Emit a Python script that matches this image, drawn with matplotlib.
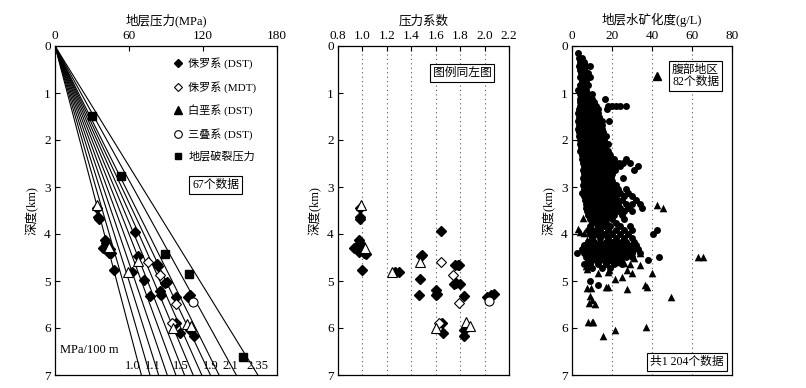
import matplotlib
matplotlib.use("Agg")
import matplotlib.pyplot as plt
from matplotlib.lines import Line2D

plt.rcParams['font.family'] = ['Liberation Serif', 'Noto Sans CJK SC', 'DejaVu Sans']
plt.rcParams['axes.unicode_minus'] = False

# ---------------- data ----------------
# pressure gradient lines (MPa/100 m)
gradients = [1.0, 1.1, 1.2, 1.3, 1.4, 1.5, 1.6, 1.7, 1.8, 1.9, 2.1, 2.35]
grad_labels = ['1.0', '1.1', '1.5', '1.9', '2.1', '2.35']
grad_label_x = [63, 79, 102, 126, 142.5, 164]

# left panel: formation pressure (MPa) vs depth (km)
jur_dst_p = [34.2, 35, 36, 40.5, 41.3, 42.7, 44.6, 39.2, 45.3, 43.4, 48.1, 62.2, 64.9, 67,
             72.4, 77, 82.4, 83.8, 85.1, 86, 89.2, 90.6, 97.9, 97.9, 101.4, 109.5, 112.7,
             108.1, 109.5]
jur_dst_d = [3.45, 3.63, 3.69, 4.12, 4.19, 4.27, 4.32, 4.3, 4.4, 4.4, 4.77, 4.81, 3.96, 4.47,
             4.98, 5.32, 4.64, 4.68, 5.22, 5.29, 5.05, 5.02, 5.33, 5.9, 6.1, 6.05, 6.17,
             5.33, 5.3]
jur_mdt_p = [75.1, 85.1, 97.9, 95.1]
jur_mdt_d = [4.59, 4.88, 5.48, 5.9]
cre_dst_p = [33.8, 44, 59.5, 67, 96, 107.3, 110]
cre_dst_d = [3.39, 4.27, 4.81, 4.57, 6.0, 5.91, 5.96]
tri_dst_p = [111.6]
tri_dst_d = [5.45]
frac_p = [30.3, 53.2, 89.4, 108.9, 152.7]
frac_d = [1.48, 2.76, 4.42, 4.85, 6.61]

# middle panel: pressure coefficient vs depth (km)
jur_dst_c = [0.98, 0.98, 0.98, 0.97, 0.98, 0.99, 1.0, 0.97, 1.01, 1.03, 0.93, 0.995,
             1.27, 1.30, 1.48, 1.49, 1.47, 1.46, 1.64, 1.60, 1.61, 1.60, 1.76, 1.78, 1.79,
             1.75, 1.77, 1.80, 1.83, 1.83, 1.83, 1.65, 1.66, 2.05, 2.08, 2.02]
jur_dst_cd = [3.45, 3.63, 3.68, 4.12, 4.19, 4.26, 4.3, 4.38, 4.4, 4.43, 4.3, 4.77,
              4.8, 4.8, 4.47, 4.45, 4.96, 5.3, 3.93, 5.2, 5.27, 5.3, 4.65, 4.66, 4.67,
              5.07, 5.05, 5.06, 5.32, 6.05, 6.17, 5.9, 6.1, 5.3, 5.28, 5.35]
jur_mdt_c = [1.64, 1.74, 1.79, 1.63]
jur_mdt_cd = [4.6, 4.87, 5.47, 5.9]
cre_dst_c = [0.99, 1.02, 1.24, 1.47, 1.60, 1.85, 1.88]
cre_dst_cd = [3.38, 4.3, 4.8, 4.59, 6.0, 5.88, 5.95]
tri_dst_c = [2.04]
tri_dst_cd = [5.43]

# right panel: salinity (g/L) vs depth (km), rows of the dense dot cloud
dot_rows = [
    (0.14, [3]),
    (0.25, [3.5, 5]),
    (0.33, [4, 6]),
    (0.42, [3.5, 5, 7, 9]),
    (0.50, [4, 6]),
    (0.58, [4.5, 6.5, 8]),
    (0.66, [4, 6, 9]),
    (0.75, [5, 7]),
    (0.84, [4, 6, 8]),
    (0.94, [3, 5, 7]),
    (1.03, [4, 6, 8, 10]),
    (1.12, [4, 6, 8, 10, 16.5]),
    (1.20, [4, 5.5, 7, 9, 11]),
    (1.27, [4, 6, 8, 10, 12, 18, 20, 22, 24, 27]),
    (1.35, [3.5, 5, 7, 9, 11, 13, 17.5]),
    (1.43, [3, 5, 7, 9, 11, 13]),
    (1.52, [3.5, 5.5, 7.5, 9.5, 11.5, 13.5]),
    (1.60, [3, 5, 7, 9, 11, 13, 15, 18.5]),
    (1.68, [3.5, 5.5, 7.5, 9.5, 11.5, 13.5, 15]),
    (1.76, [3, 5, 7, 9, 11, 13, 15]),
    (1.84, [3.5, 5.5, 7.5, 9.5, 11.5, 13.5, 15.5]),
    (1.92, [3.5, 5, 7, 9, 11, 13, 15, 17]),
    (2.00, [4, 6, 8, 10, 12, 14, 16]),
    (2.08, [4, 6, 8, 10, 12, 14, 16, 18]),
    (2.16, [4.5, 6.5, 8.5, 10.5, 12.5, 14.5, 16.5]),
    (2.24, [4, 6, 8, 10, 12, 14, 16, 18]),
    (2.32, [5, 7, 9, 11, 13, 15, 17, 19]),
    (2.40, [5, 7, 9, 11, 13, 15, 17, 19, 21, 27]),
    (2.48, [5.5, 7.5, 9.5, 11.5, 13.5, 15.5, 17.5, 19.5, 21.5, 23.5, 25.5, 29]),
    (2.56, [6, 8, 10, 12, 14, 16, 18, 20, 22, 24, 33]),
    (2.64, [5.5, 7.5, 9.5, 11.5, 13.5, 15.5, 17.5, 19.5, 21.5, 31]),
    (2.72, [6, 8, 10, 12, 14, 16, 18, 20]),
    (2.80, [5.5, 7.5, 9.5, 11.5, 13.5, 15.5, 17.5, 19.5, 25.5]),
    (2.88, [6, 8, 10, 12, 14, 16, 18, 20]),
    (2.96, [5.5, 7.5, 9.5, 11.5, 13.5, 15.5, 17.5, 19.5, 22]),
    (3.04, [6, 8, 10, 12, 14, 16, 18, 20, 23, 27]),
    (3.12, [5, 7, 9, 11, 13, 15, 17, 19, 21, 24, 28]),
    (3.20, [6, 8, 10, 12, 14, 16, 18, 20, 22, 26, 30]),
    (3.28, [6.5, 8.5, 10.5, 12.5, 14.5, 16.5, 18.5, 20.5, 22.5, 25, 32]),
    (3.36, [7, 9, 11, 13, 15, 17, 19, 21, 23, 27, 30, 34]),
    (3.44, [7, 9, 11, 13, 15, 17, 19, 21, 24, 28, 35]),
    (3.52, [7.5, 9.5, 11.5, 13.5, 15.5, 17.5, 19.5, 23, 26, 30]),
    (3.60, [8, 10, 12, 14, 16, 18, 21, 25]),
    (3.68, [9, 11, 13, 15, 17, 20, 26]),
    (3.76, [10, 12, 14, 17, 22]),
    (3.84, [9, 13, 16, 19, 24, 29]),
    (3.92, [8, 10, 12, 14, 18, 22, 26, 30, 42.5]),
    (4.00, [9, 11, 13, 16, 20, 24, 28, 40.5]),
    (4.08, [10, 14, 18, 22, 26, 30]),
    (4.16, [8, 11, 14, 17, 20, 23, 27, 31]),
    (4.24, [6, 8, 10, 12, 14, 16, 18, 20, 22, 24, 26, 28, 30, 32]),
    (4.32, [5, 7, 9, 11, 13, 15, 17, 19, 21, 23, 25, 27, 29, 31, 33]),
    (4.40, [2.5, 6, 8, 10, 12, 14, 16, 18, 20, 22, 24, 26, 28, 30, 34]),
    (4.48, [7, 9, 11, 13, 15, 17, 19, 21, 23, 25, 27, 30, 43.5]),
    (4.55, [8, 10, 12, 14, 16, 18, 20, 22, 24, 38]),
    (4.63, [6, 9, 13, 17, 21, 25]),
    (4.72, [10, 15, 19]),
    (5.00, [9]),
    (5.08, [13]),
]
# Fubu area triangles (salinity g/L, depth km)
fubu_s = [42.3, 45.7, 5.7, 3.2, 4, 6, 12.3, 14.8, 17.3, 19.8, 7.3, 34, 63, 65.3, 34, 7, 7.7,
          13.2, 18.5, 17.8, 27.3, 29, 29.8, 39.8, 21.5, 24.8, 7.3, 9.3, 17, 18.2, 27.7, 36.5,
          37.3, 9, 9.8, 8.7, 11.5, 49.5, 8.2, 9.8, 10.7, 15.3, 21.5, 37,
          5, 8, 11, 14, 16, 19, 22, 25, 27, 30, 12, 17, 28, 10, 22, 25, 31, 20, 23, 26]
fubu_d = [3.38, 3.45, 3.67, 3.9, 3.95, 3.97, 4.0, 3.99, 4.0, 3.98, 4.13, 4.41, 4.48, 4.48,
          4.66, 4.69, 4.74, 4.82, 4.77, 4.8, 4.77, 4.64, 4.84, 4.82, 4.96, 4.92, 5.15, 5.15,
          5.12, 5.13, 5.16, 5.08, 5.12, 5.32, 5.4, 5.47, 5.49, 5.33, 5.88, 5.88, 5.88, 6.17,
          6.04, 5.98,
          4.3, 4.25, 4.35, 4.3, 4.22, 4.4, 4.28, 4.45, 4.3, 4.35, 4.45, 4.5, 4.22, 4.05, 4.15,
          4.1, 4.5, 4.55, 4.6, 4.62]

sal_x = [x for d, xs in dot_rows for x in xs]
sal_d = [d for d, xs in dot_rows for x in xs]

# ---------------- figure ----------------
fig = plt.figure(figsize=(8.06, 3.88), dpi=100)
H = 388.0
W = 806.0
def axpos(x0, x1, y0=46, y1=375):
    return [x0 / W, (H - y1) / H, (x1 - x0) / W, (y1 - y0) / H]

ax1 = fig.add_axes(axpos(55, 277))
ax2 = fig.add_axes(axpos(338, 509))
ax3 = fig.add_axes(axpos(572, 732))

TICK_FS = 9.5
LAB_FS = 9
LEG_FS = 8

for ax in (ax1, ax2, ax3):
    ax.set_ylim(7, 0)
    ax.set_yticks(range(0, 8))
    ax.xaxis.tick_top()
    ax.xaxis.set_label_position('top')
    ax.tick_params(axis='both', direction='in', length=3.5, width=0.8,
                   labelsize=TICK_FS, pad=3, top=True, bottom=False, left=True, right=False)
    for s in ax.spines.values():
        s.set_linewidth(0.9)
    ax.set_ylabel('深度(km)', fontsize=LAB_FS, labelpad=4)

# left panel
ax1.set_xlim(0, 180)
ax1.set_xticks([0, 60, 120, 180])
ax1.set_xlabel('地层压力(MPa)', fontsize=LAB_FS, labelpad=4)
for g in gradients:
    ax1.plot([0, g * 70], [0, 7], color='black', lw=0.8, zorder=1)
for lab, lx in zip(grad_labels, grad_label_x):
    ax1.text(lx, 6.93, lab, fontsize=9, ha='center', va='bottom')
ax1.text(4, 6.47, 'MPa/100 m', fontsize=9, ha='left', va='center')

ms = 5.5
kw_f = dict(linestyle='none', color='black', zorder=3)
ax1.plot(jur_dst_p, jur_dst_d, marker='D', markersize=ms, markerfacecolor='black',
         markeredgecolor='black', **kw_f)
ax1.plot(jur_mdt_p, jur_mdt_d, marker='D', markersize=ms, markerfacecolor='white',
         markeredgecolor='black', markeredgewidth=0.8, **kw_f)
ax1.plot(cre_dst_p, cre_dst_d, marker='^', markersize=ms + 1, markerfacecolor='white',
         markeredgecolor='black', markeredgewidth=0.8, **kw_f)
ax1.plot(tri_dst_p, tri_dst_d, marker='o', markersize=ms + 1, markerfacecolor='white',
         markeredgecolor='black', markeredgewidth=0.8, **kw_f)
ax1.plot(frac_p, frac_d, marker='s', markersize=ms + 0.5, markerfacecolor='black',
         markeredgecolor='black', **kw_f)
leg_handles = [
    Line2D([], [], linestyle='none', marker='D', markersize=4.5, color='black'),
    Line2D([], [], linestyle='none', marker='D', markersize=4.5, markerfacecolor='white',
           markeredgecolor='black', markeredgewidth=0.8),
    Line2D([], [], linestyle='none', marker='^', markersize=5.5, color='black'),
    Line2D([], [], linestyle='none', marker='o', markersize=5.5, markerfacecolor='white',
           markeredgecolor='black', markeredgewidth=0.8),
    Line2D([], [], linestyle='none', marker='s', markersize=5, color='black'),
]
ax1.legend(leg_handles, ['侏罗系 (DST)', '侏罗系 (MDT)', '白垩系 (DST)', '三叠系 (DST)', '地层破裂压力'],
           loc='upper left', bbox_to_anchor=(0.53, 0.965), frameon=False,
           fontsize=LEG_FS, handlelength=0.9, handletextpad=0.5, labelspacing=1.05,
           borderpad=0, borderaxespad=0)
ax1.text(0.725, 0.578, '67个数据', transform=ax1.transAxes, fontsize=LEG_FS + 0.5,
         ha='center', va='center',
         bbox=dict(boxstyle='square,pad=0.25', facecolor='white', edgecolor='black', lw=0.8))

# middle panel
ax2.set_xlim(0.8, 2.2)
ax2.set_xticks([0.8, 1.0, 1.2, 1.4, 1.6, 1.8, 2.0, 2.2])
ax2.set_xticklabels(['0.8', '1.0', '1.2', '1.4', '1.6', '1.8', '2.0', '2.2'])
ax2.set_xlabel('压力系数', fontsize=LAB_FS, labelpad=4)
for xv in [1.0, 1.2, 1.4, 1.6, 1.8, 2.0]:
    ax2.axvline(xv, color='#555555', lw=0.8, linestyle=(0, (1, 3)), zorder=0)
ax2.plot(jur_dst_c, jur_dst_cd, marker='D', markersize=ms, markerfacecolor='black',
         markeredgecolor='black', **kw_f)
ax2.plot(jur_mdt_c, jur_mdt_cd, marker='D', markersize=ms, markerfacecolor='white',
         markeredgecolor='black', markeredgewidth=0.8, **kw_f)
ax2.plot(cre_dst_c, cre_dst_cd, marker='^', markersize=ms + 1, markerfacecolor='white',
         markeredgecolor='black', markeredgewidth=0.8, **kw_f)
ax2.plot(tri_dst_c, tri_dst_cd, marker='o', markersize=ms + 1, markerfacecolor='white',
         markeredgecolor='black', markeredgewidth=0.8, **kw_f)
ax2.text(0.725, 0.918, '图例同左图', transform=ax2.transAxes, fontsize=LEG_FS + 0.5,
         ha='center', va='center',
         bbox=dict(boxstyle='square,pad=0.25', facecolor='white', edgecolor='black', lw=0.8))

# right panel
ax3.set_xlim(0, 80)
ax3.set_xticks([0, 20, 40, 60, 80])
ax3.set_xlabel('地层水矿化度(g/L)', fontsize=LAB_FS, labelpad=4)
for xv in [20, 40, 60]:
    ax3.axvline(xv, color='#555555', lw=0.8, linestyle=(0, (1, 3)), zorder=0)
ax3.scatter(sal_x, sal_d, s=25, color='black', linewidths=0, zorder=2)
ax3.scatter(fubu_s, fubu_d, s=30, marker='^', color='black', linewidths=0, zorder=3)
fleg = ax3.legend([Line2D([], [], linestyle='none', marker='^', markersize=5.5, color='black')],
                  ['腹部地区\n82个数据'], loc='upper left', bbox_to_anchor=(0.5, 0.945),
                  frameon=False, fontsize=LEG_FS + 0.5, handlelength=0.8, handletextpad=0.9,
                  borderpad=0, borderaxespad=0)
for t in fleg.get_texts():
    t.set_linespacing(1.0)
    t.set_bbox(dict(boxstyle='square,pad=0.25', facecolor='white', edgecolor='black', lw=0.8))
ax3.text(0.72, 0.04, '共1 204个数据', transform=ax3.transAxes, fontsize=LEG_FS + 0.5,
         ha='center', va='center',
         bbox=dict(boxstyle='square,pad=0.25', facecolor='white', edgecolor='black', lw=0.8))

fig.savefig('out.png', dpi=100)
